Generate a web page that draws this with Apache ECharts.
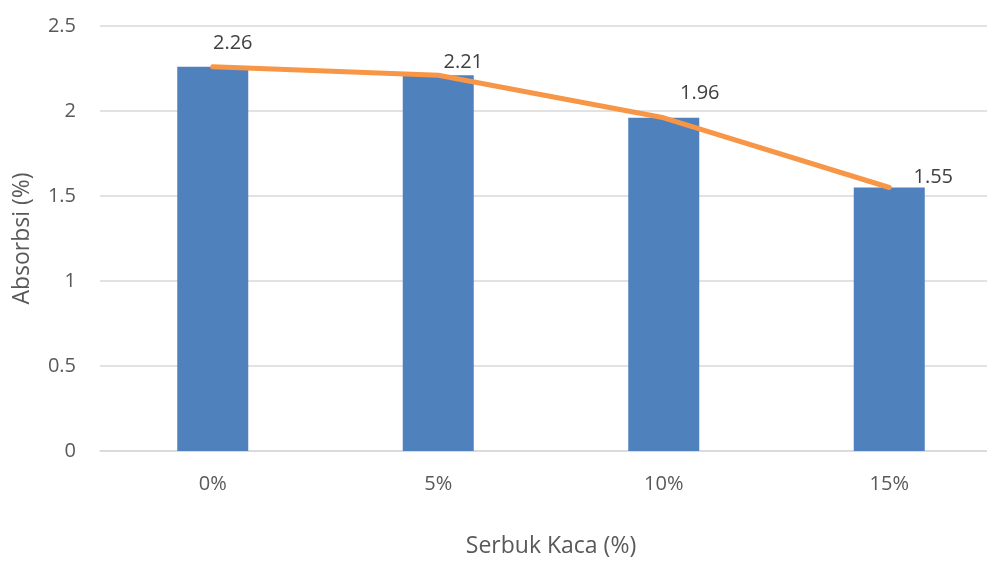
<!DOCTYPE html>
<html>
<head>
<meta charset="utf-8">
<script src="https://cdn.jsdelivr.net/npm/echarts@6/dist/echarts.min.js"></script>
<style>html,body{margin:0;padding:0;background:#fff;}#c{width:987px;height:561px;}</style>
</head>
<body>
<div id="c"></div>
<script>
const categories = ['0%', '5%', '10%', '15%'];
const absorbsi = [2.26, 2.21, 1.96, 1.55];
const yTicks = { min: 0, max: 2.5, interval: 0.5 };
const xTitle = 'Serbuk Kaca (%)';
const yTitle = 'Absorbsi (%)';

const FONT = 'Open Sans';
const labelOffsets = [[20, -14], [25, -3], [36, -15], [44, 0]];

const chart = echarts.init(document.getElementById('c'), null, { renderer: 'canvas' });
chart.setOption({
  animation: false,
  backgroundColor: '#ffffff',
  textStyle: { fontFamily: FONT },
  grid: { left: 100, right: -15, top: 26, bottom: 110, containLabel: false, outerBoundsMode: 'none' },
  xAxis: {
    type: 'category',
    data: categories,
    name: xTitle,
    nameLocation: 'middle',
    nameGap: 84,
    nameTextStyle: { fontSize: 23, color: '#595959', fontFamily: FONT },
    axisLine: { lineStyle: { color: '#D9D9D9', width: 1.5 } },
    axisTick: { show: false },
    axisLabel: { fontSize: 20, color: '#595959', margin: 23, fontFamily: FONT },
    splitLine: { show: false }
  },
  yAxis: {
    type: 'value',
    min: yTicks.min, max: yTicks.max, interval: yTicks.interval,
    name: yTitle,
    nameLocation: 'middle',
    nameGap: 66,
    nameTextStyle: { fontSize: 23, color: '#595959', fontFamily: FONT },
    axisLine: { show: false },
    axisTick: { show: false },
    axisLabel: { fontSize: 20, color: '#595959', margin: 24, fontFamily: FONT },
    splitLine: { lineStyle: { color: '#D9D9D9', width: 1.5 } }
  },
  series: [
    {
      type: 'bar',
      data: absorbsi.map((v, i) => ({
        value: v,
        label: { show: true, offset: labelOffsets[i] }
      })),
      barWidth: 71,
      itemStyle: { color: '#4F81BD' },
      label: {
        show: true,
        position: 'top',
        distance: 0,
        fontSize: 20,
        color: '#404040',
        fontFamily: FONT
      },
      z: 2
    },
    {
      type: 'line',
      data: absorbsi,
      symbol: 'none',
      lineStyle: { color: '#F79646', width: 5, cap: 'round' },
      itemStyle: { color: '#F79646' },
      z: 3
    }
  ]
});
</script>
</body>
</html>
